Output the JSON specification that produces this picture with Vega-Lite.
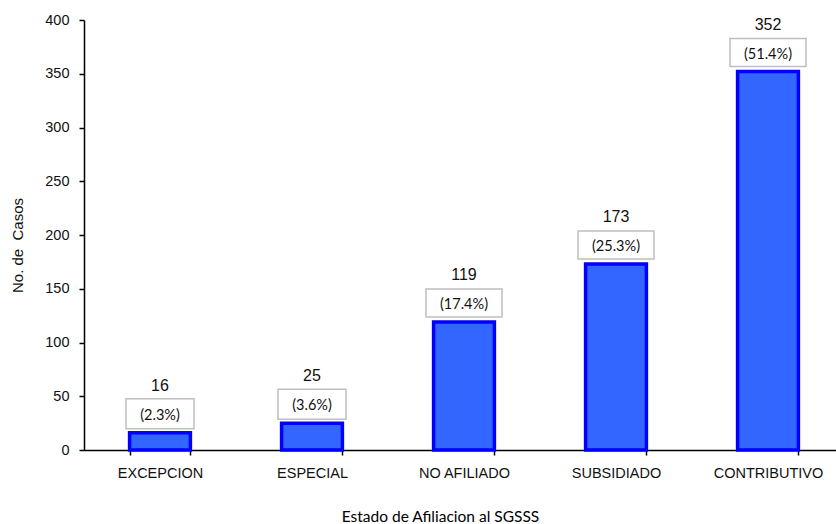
{
  "$schema": "https://vega.github.io/schema/vega-lite/v6.json",
  "width": 752,
  "height": 430,
  "autosize": {"type": "none"},
  "padding": {"left": 84, "top": 20, "right": 0, "bottom": 74},
  "background": "white",
  "config": {"view": {"stroke": null}},
  "data": {
    "values": [
      {"estado": "EXCEPCION", "casos": 16, "pct": "(2.3%)"},
      {"estado": "ESPECIAL", "casos": 25, "pct": "(3.6%)"},
      {"estado": "NO AFILIADO", "casos": 119, "pct": "(17.4%)"},
      {"estado": "SUBSIDIADO", "casos": 173, "pct": "(25.3%)"},
      {"estado": "CONTRIBUTIVO", "casos": 352, "pct": "(51.4%)"}
    ]
  },
  "encoding": {
    "x": {
      "field": "estado",
      "type": "nominal",
      "sort": null,
      "scale": {"range": [0, 760], "paddingInner": 0.6, "paddingOuter": 0.3},
      "axis": {
        "title": "Estado de Afiliacion al SGSSS",
        "titleFont": "Lato",
        "titleFontSize": 15.5,
        "titleFontWeight": "normal",
        "titleColor": "#000000",
        "titleX": 356,
        "titleY": 71,
        "titleAlign": "center",
        "titleBaseline": "alphabetic",
        "labelAngle": 0,
        "labelFont": "Liberation Sans",
        "labelFontSize": 14.5,
        "labelColor": "#111111",
        "labelPadding": 11,
        "tickBand": "extent",
        "tickSize": 5,
        "tickColor": "#000000",
        "domainColor": "#000000",
        "domainWidth": 1.5,
        "tickWidth": 1.5,
        "grid": false
      }
    },
    "y": {
      "field": "casos",
      "type": "quantitative",
      "scale": {"domain": [0, 400], "nice": false},
      "axis": {
        "title": "No. de\u00a0 Casos",
        "titleFont": "Liberation Sans",
        "titleFontSize": 15,
        "titleFontWeight": "normal",
        "titleColor": "#111111",
        "titleAngle": -90,
        "titleX": -62,
        "titleY": 225,
        "titleAlign": "center",
        "titleBaseline": "alphabetic",
        "values": [0, 50, 100, 150, 200, 250, 300, 350, 400],
        "labelFont": "Liberation Sans",
        "labelFontSize": 14.5,
        "labelColor": "#111111",
        "labelPadding": 10,
        "tickSize": 5,
        "tickColor": "#000000",
        "domainColor": "#000000",
        "domainWidth": 1.5,
        "tickWidth": 1.5,
        "grid": false
      }
    }
  },
  "layer": [
    {
      "mark": {"type": "bar", "fill": "#3366FF", "stroke": "#0000FF", "strokeWidth": 3.5}
    },
    {
      "mark": {
        "type": "point",
        "filled": true,
        "fill": "#FFFFFF",
        "stroke": "#BFBFBF",
        "strokeWidth": 1.5,
        "opacity": 1,
        "size": 4,
        "yOffset": -19
      },
      "encoding": {
        "shape": {
          "condition": {"test": "length(datum.pct) > 6", "value": "M-38,-14H38V14H-38Z"},
          "value": "M-34,-15H34V15H-34Z"
        }
      }
    },
    {
      "mark": {
        "type": "text",
        "font": "Lato",
        "fontSize": 14.5,
        "color": "#111111",
        "baseline": "middle",
        "dy": -17
      },
      "encoding": {"text": {"field": "pct"}}
    },
    {
      "mark": {
        "type": "text",
        "font": "Liberation Sans",
        "fontSize": 16,
        "color": "#111111",
        "baseline": "alphabetic",
        "dy": -42
      },
      "encoding": {"text": {"field": "casos"}}
    }
  ]
}
